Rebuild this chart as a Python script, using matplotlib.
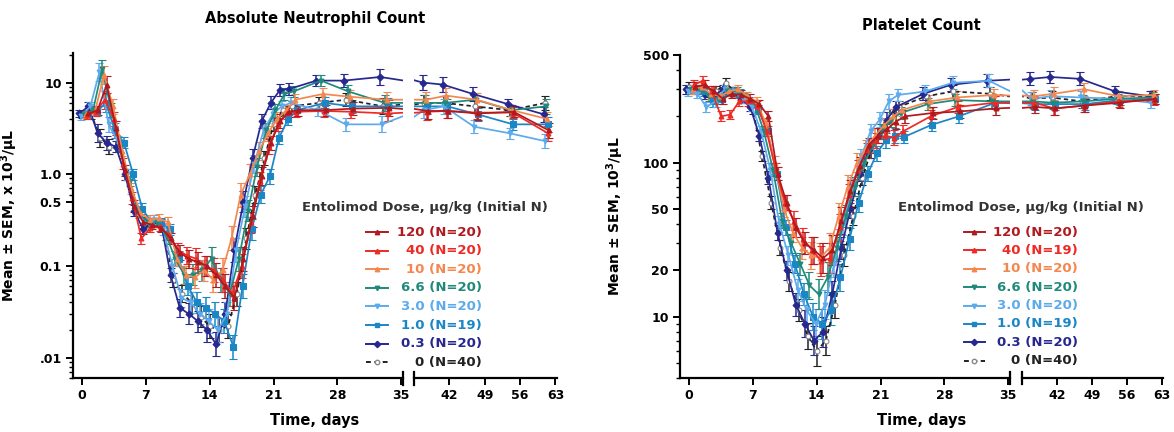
import numpy as np
import matplotlib
matplotlib.use("Agg")
import matplotlib.pyplot as plt
from matplotlib.lines import Line2D
from matplotlib.ticker import FixedLocator, FixedFormatter, LogLocator, NullFormatter

# ---------------- data ----------------
DAYS = [0, 1, 2, 3, 4, 5, 6, 7, 8, 9, 10, 11, 12, 13, 14, 15, 16, 17, 18, 19,
        20, 21, 22, 23, 26, 29, 33, 37, 41, 47, 54, 61]

DOSES = ["120", "40", "10", "6.6", "3.0", "1.0", "0.3", "0"]
ANC_N = ["20", "20", "20", "20", "20", "19", "20", "40"]
PLT_N = ["20", "19", "20", "20", "20", "19", "20", "40"]
# sampling-day offsets of each dose group (days)
DAY_OFFSET = [0.7, 0.5, 0.4, 0.2, -0.1, 0.6, -0.3, 0.0]

COLORS = ["#B0191E", "#EE2A24", "#F4874F", "#1F8A7A", "#5DAAEC", "#1B86C6", "#26278F", "#222222"]
MARKERS = ["^", "^", "^", "v", "v", "s", "D", "o"]

# Absolute neutrophil count, x10^3/uL
ANC_120 = [4.6, 5.0, 9.5, 3.2, 1.1, 0.45, 0.30, 0.28, 0.26, 0.20, 0.14, 0.12, 0.11, 0.10, 0.08, 0.06,
           0.045, 0.12, 0.35, 0.95, 2.2, 3.8, 4.8, 5.0, 5.0, 5.2, 5.3, 4.9, 4.9, 4.6, 4.8, 3.0]
ANC_40 = [4.4, 4.8, 6.5, 4.0, 1.3, 0.55, 0.20, 0.26, 0.27, 0.22, 0.15, 0.13, 0.12, 0.10, 0.09, 0.07,
          0.05, 0.10, 0.30, 0.85, 2.0, 3.5, 4.6, 4.8, 4.9, 4.8, 4.6, 4.8, 4.9, 4.7, 4.7, 2.8]
ANC_10 = [4.5, 4.8, 12.0, 5.5, 1.8, 0.70, 0.38, 0.32, 0.33, 0.30, 0.12, 0.08, 0.075, 0.09, 0.07, 0.09,
          0.20, 0.60, 1.0, 1.8, 2.8, 4.0, 5.0, 6.5, 7.5, 7.0, 6.5, 6.5, 7.2, 6.5, 5.0, 4.0]
ANC_6_6 = [4.5, 5.0, 14.0, 5.0, 2.0, 0.85, 0.38, 0.30, 0.30, 0.22, 0.12, 0.08, 0.08, 0.09, 0.12, 0.07,
           0.05, 0.12, 0.40, 1.2, 3.0, 5.0, 7.5, 8.0, 10.5, 8.0, 6.0, 6.0, 6.0, 6.5, 5.0, 5.5]
ANC_3_0 = [4.3, 5.5, 13.0, 3.5, 2.3, 1.0, 0.42, 0.30, 0.32, 0.25, 0.10, 0.045, 0.04, 0.03, 0.025, 0.02,
           0.03, 0.15, 0.45, 1.3, 3.0, 4.5, 5.5, 6.0, 5.0, 3.5, 3.5, 5.0, 5.5, 3.3, 2.8, 2.3]
ANC_1_0 = [4.5, 4.8, 6.0, 3.0, 2.2, 1.0, 0.42, 0.30, 0.30, 0.25, 0.12, 0.06, 0.04, 0.035, 0.03, 0.025,
           0.013, 0.06, 0.25, 0.60, 0.95, 2.5, 4.0, 5.0, 6.0, 5.5, 5.5, 5.5, 5.5, 4.5, 3.5, 3.5]
ANC_0_3 = [4.6, 5.5, 2.8, 2.2, 2.0, 1.0, 0.40, 0.25, 0.30, 0.28, 0.08, 0.035, 0.03, 0.025, 0.02, 0.014,
           0.03, 0.15, 0.50, 1.5, 3.8, 6.0, 8.3, 8.5, 10.5, 10.5, 11.5, 10.0, 9.5, 7.5, 5.8, 4.5]
ANC_0 = [4.5, 4.5, 2.5, 2.0, 2.0, 1.0, 0.42, 0.30, 0.30, 0.25, 0.07, 0.05, 0.04, 0.028, 0.022, 0.02,
         0.022, 0.05, 0.20, 0.60, 1.5, 3.5, 5.0, 5.5, 6.0, 6.5, 5.5, 6.0, 6.0, 5.5, 5.0, 6.0]
# relative SEM, per sampling day
ANC_REL_SEM = [0.10, 0.12, 0.25, 0.20, 0.15, 0.15, 0.15, 0.12, 0.12, 0.15, 0.20, 0.25, 0.30, 0.30, 0.35, 0.35,
               0.35, 0.35, 0.30, 0.25, 0.20, 0.18, 0.15, 0.15, 0.15, 0.18, 0.22, 0.22, 0.20, 0.18, 0.15, 0.20]

# Platelet count, x10^3/uL
PLT_120 = [310, 320, 290, 260, 280, 275, 260, 240, 200, 85, 55, 38, 30, 27, 24, 27,
           42, 65, 95, 130, 150, 165, 185, 200, 210, 215, 225, 230, 225, 235, 245, 260]
PLT_40 = [320, 340, 290, 200, 205, 250, 250, 235, 160, 90, 55, 42, 32, 27, 23, 24,
          38, 62, 90, 120, 140, 150, 145, 160, 200, 230, 245, 245, 225, 235, 250, 255]
PLT_10 = [300, 310, 280, 270, 290, 300, 270, 250, 180, 100, 50, 35, 28, 25, 24, 28,
          45, 70, 100, 125, 150, 175, 200, 220, 250, 265, 275, 270, 280, 300, 270, 275]
PLT_6_6 = [300, 300, 270, 260, 290, 290, 270, 240, 160, 90, 42, 30, 22, 16, 14, 18,
           28, 45, 70, 100, 130, 160, 190, 210, 240, 255, 250, 250, 245, 250, 260, 265]
PLT_3_0 = [290, 280, 230, 250, 300, 290, 260, 230, 160, 90, 40, 25, 15, 11, 9, 12,
           22, 40, 70, 110, 160, 190, 250, 275, 290, 330, 340, 260, 270, 265, 260, 245]
PLT_1_0 = [300, 290, 250, 260, 290, 280, 250, 220, 160, 85, 38, 22, 14, 10, 9, 11,
           18, 32, 55, 85, 115, 140, 150, 147, 176, 200, 245, 240, 240, 240, 255, 260]
PLT_0_3 = [300, 310, 280, 270, 300, 290, 260, 230, 150, 80, 35, 20, 12, 9, 7, 8,
           14, 28, 50, 85, 120, 150, 190, 230, 280, 320, 340, 350, 360, 350, 290, 270]
PLT_0 = [310, 300, 290, 290, 330, 290, 260, 220, 110, 55, 28, 17, 11, 7.5, 6.0, 7.0,
         12, 25, 45, 80, 120, 160, 200, 230, 270, 290, 280, 260, 265, 250, 270, 270]
PLT_REL_SEM = [0.07, 0.07, 0.08, 0.08, 0.07, 0.07, 0.07, 0.07, 0.08, 0.10, 0.12, 0.15, 0.18, 0.22, 0.25, 0.25,
               0.22, 0.18, 0.15, 0.12, 0.12, 0.12, 0.12, 0.10, 0.10, 0.10, 0.10, 0.10, 0.10, 0.10, 0.08, 0.08]

ANC_SERIES = [ANC_120, ANC_40, ANC_10, ANC_6_6, ANC_3_0, ANC_1_0, ANC_0_3, ANC_0]
PLT_SERIES = [PLT_120, PLT_40, PLT_10, PLT_6_6, PLT_3_0, PLT_1_0, PLT_0_3, PLT_0]

ANC_YTICKS = [0.01, 0.1, 0.5, 1.0, 10]
ANC_YTICKLABELS = [".01", "0.1", "0.5", "1.0", "10"]
PLT_YTICKS = [10, 20, 50, 100, 500]
PLT_YTICKLABELS = ["10", "20", "50", "100", "500"]
XTICKS_A = [0, 7, 14, 21, 28, 35]
XTICKS_B = [42, 49, 56, 63]

# ---------------- figure ----------------
W, H = 1174, 432
fig = plt.figure(figsize=(W / 100, H / 100), dpi=100)
plt.rcParams['font.family'] = ['DejaVu Sans']


def fx(px):
    return px / W


def fy(py):
    return 1 - py / H


def style_axis(ax, left_spine=True):
    for s in ["top", "right"]:
        ax.spines[s].set_visible(False)
    ax.spines["left"].set_visible(left_spine)
    for s in ["left", "bottom"]:
        ax.spines[s].set_linewidth(1.6)
    ax.tick_params(axis="both", which="major", direction="out", length=5, width=1.4,
                   labelsize=9, pad=3)
    ax.tick_params(axis="y", which="minor", direction="out", length=3, width=1.0)
    for lab in ax.get_xticklabels() + ax.get_yticklabels():
        lab.set_fontweight("bold")


def draw_panel(x0, x1, x2, x3, ytop, ybot, series, rel_sem, ylim, yticks, yticklabels,
               title, title_y, ylabel, ylabel_x, nlabels, leg_px):
    axA = fig.add_axes([fx(x0), fy(ybot), fx(x1 - x0), (ybot - ytop) / H])
    axB = fig.add_axes([fx(x2), fy(ybot), fx(x3 - x2), (ybot - ytop) / H], sharey=axA)
    rel = np.array(rel_sem)
    order = [7, 6, 5, 4, 3, 2, 1, 0]
    for ax in (axA, axB):
        for i in order:
            v = np.array(series[i], dtype=float)
            d = np.array(DAYS, dtype=float) + DAY_OFFSET[i]
            f = 1 + rel
            yerr = [v - v / f, v * f - v]
            ctrl = DOSES[i] == "0"
            ax.errorbar(d, v, yerr=yerr, color=COLORS[i], marker=MARKERS[i],
                        ms=3.5 if MARKERS[i] != "s" else 3.8,
                        mfc="white" if ctrl else COLORS[i], mec=COLORS[i] if not ctrl else "#888888",
                        mew=0.8, lw=1.25, ls=(0, (2.5, 1.8)) if ctrl else "-",
                        elinewidth=1.1, capsize=2.6, capthick=1.1, zorder=3)
        ax.set_yscale("log")
    axA.set_xlim(-1.0, 35.2)
    axB.set_xlim(35.0, 63.3)
    axA.set_ylim(*ylim)
    axA.yaxis.set_major_locator(FixedLocator(yticks))
    axA.yaxis.set_major_formatter(FixedFormatter(yticklabels))
    axA.yaxis.set_minor_locator(LogLocator(base=10, subs=np.arange(2, 10)))
    axA.yaxis.set_minor_formatter(NullFormatter())
    axA.set_xticks(XTICKS_A)
    axB.set_xticks(XTICKS_B)
    style_axis(axA, True)
    style_axis(axB, False)
    axB.tick_params(axis="y", which="both", left=False, labelleft=False)
    # break marks
    for ax, xe in ((axA, 1.0), (axB, 0.0)):
        ax.plot([xe, xe], [-0.02, 0.02], transform=ax.transAxes, color="black",
                lw=1.6, clip_on=False, zorder=5)
    axA.set_ylabel(ylabel, fontsize=10, fontweight="bold")
    axA.yaxis.set_label_coords((ylabel_x - x0) / (x1 - x0), 0.5)
    cx = (x0 + x3) / 2
    fig.text(fx(cx), fy(title_y), title, ha="center", va="center", fontsize=10.5, fontweight="bold")
    fig.text(fx(cx), fy(421), "Time, days", ha="center", va="center", fontsize=10.5, fontweight="bold")
    # legend
    tcx, ty, hx0, hx1, txr, ry0, dry = leg_px
    fig.text(fx(tcx), fy(ty), "Entolimod Dose, \u00b5g/kg (Initial N)", ha="center", va="center",
             fontsize=9.5, fontweight="bold", color="#333333")
    for k in range(len(DOSES)):
        yk = ry0 + dry * k
        ctrl = DOSES[k] == "0"
        ln = Line2D([fx(hx0), fx(hx1)], [fy(yk), fy(yk)], transform=fig.transFigure,
                    color=COLORS[k], lw=1.4, ls=(0, (2.5, 1.8)) if ctrl else "-")
        fig.add_artist(ln)
        mk = Line2D([fx((hx0 + hx1) / 2)], [fy(yk)], transform=fig.transFigure, color=COLORS[k],
                    marker=MARKERS[k], ms=3.2, mfc="white" if ctrl else COLORS[k],
                    mec="#888888" if ctrl else COLORS[k], ls="none")
        fig.add_artist(mk)
        fig.text(fx(txr), fy(yk), f"{DOSES[k]} (N={nlabels[k]})", ha="right", va="center",
                 fontsize=9.5, fontweight="bold", color=COLORS[k])
    return axA, axB


draw_panel(73, 403, 414, 557, 53, 378, ANC_SERIES, ANC_REL_SEM, (0.006, 21),
           ANC_YTICKS, ANC_YTICKLABELS, "Absolute Neutrophil Count", 18,
           "Mean \u00b1 SEM, x 10$^{\\mathbf{3}}$/\u00b5L", 20, ANC_N,
           (425, 207, 366, 388, 482, 232, 18.6))
draw_panel(680, 1010, 1022, 1163, 55, 378, PLT_SERIES, PLT_REL_SEM, (4, 500),
           PLT_YTICKS, PLT_YTICKLABELS, "Platelet Count", 25,
           "Mean \u00b1 SEM, 10$^{\\mathbf{3}}$/\u00b5L", 626, PLT_N,
           (1021, 207, 964, 985, 1078, 232, 18.4))

fig.savefig("out.png", dpi=100)
